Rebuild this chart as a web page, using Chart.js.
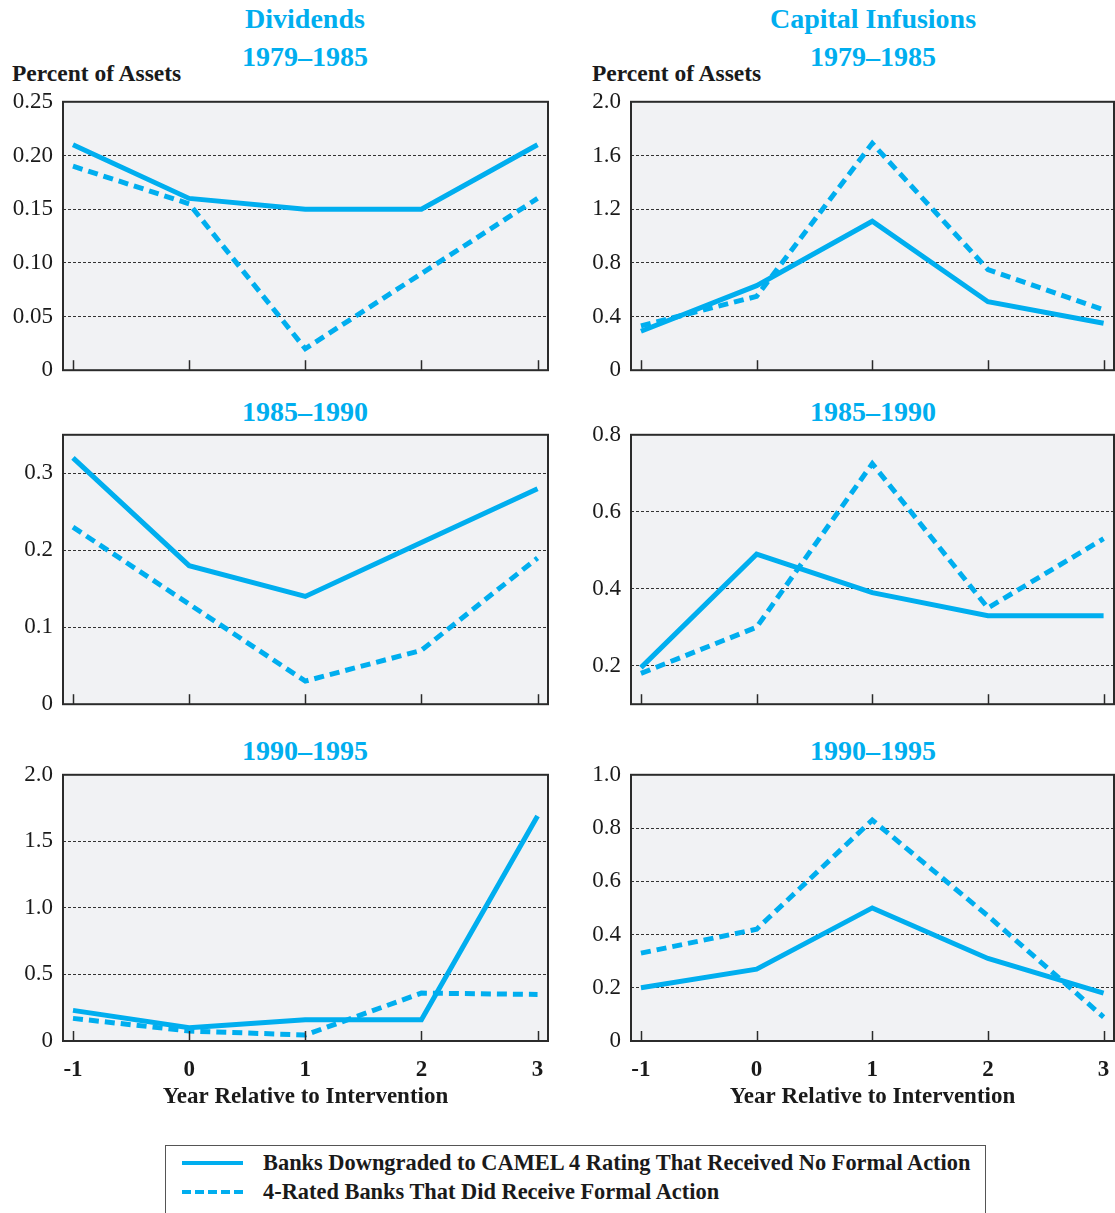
<!DOCTYPE html>
<html>
<head>
<meta charset="utf-8">
<script src="https://cdn.jsdelivr.net/npm/chart.js@4.4.0/dist/chart.umd.min.js"></script>
<style>
  body { margin: 0; background: #fff; width: 1115px; height: 1213px; position: relative; overflow: hidden;
         font-family: 'Liberation Serif', 'Times New Roman', serif; }
  canvas { position: absolute; }
  .ttl { position: absolute; width: 300px; text-align: center; color: #00AEEF; font-weight: bold;
         font-size: 28px; line-height: 28px; white-space: nowrap; }
  .unit { position: absolute; font-weight: bold; font-size: 23.5px; line-height: 24px; color: #1a1a1a; white-space: nowrap; }
  #legend { position: absolute; left: 165px; top: 1145px; width: 819px; height: 90px; border: 1px solid #555; }
  .row { position: absolute; left: 0; height: 26px; }
  .swatch { position: absolute; left: 16px; width: 61px; height: 4px; }
  .solid { background: #00AEEF; }
  .dash { background: repeating-linear-gradient(to right, #00AEEF 0 9px, transparent 9px 13px); }
  .lbl { position: absolute; left: 97px; font-weight: bold; font-size: 22.4px; line-height: 26px; color: #1a1a1a; white-space: nowrap; }
</style>
</head>
<body>

<div class="ttl" style="left:155px;top:5px">Dividends</div>
<div class="ttl" style="left:155px;top:43px">1979–1985</div>
<div class="ttl" style="left:723px;top:5px">Capital Infusions</div>
<div class="ttl" style="left:723px;top:43px">1979–1985</div>
<div class="unit" style="left:12px;top:61px">Percent of Assets</div>
<div class="unit" style="left:592px;top:61px">Percent of Assets</div>
<div class="ttl" style="left:155px;top:398px">1985–1990</div>
<div class="ttl" style="left:723px;top:398px">1985–1990</div>
<div class="ttl" style="left:155px;top:737px">1990–1995</div>
<div class="ttl" style="left:723px;top:737px">1990–1995</div>

<canvas id="c1" width="560" height="316" style="left:0;top:78px"></canvas>
<canvas id="c2" width="547" height="316" style="left:568px;top:78px"></canvas>
<canvas id="c3" width="560" height="317" style="left:0;top:411px"></canvas>
<canvas id="c4" width="547" height="317" style="left:568px;top:411px"></canvas>
<canvas id="c5" width="560" height="367" style="left:0;top:751px"></canvas>
<canvas id="c6" width="547" height="367" style="left:568px;top:751px"></canvas>

<div id="legend">
  <div class="row" style="top:4px"><div class="swatch solid" style="top:11px"></div><div class="lbl">Banks Downgraded to CAMEL 4 Rating That Received No Formal Action</div></div>
  <div class="row" style="top:33px"><div class="swatch dash" style="top:11px"></div><div class="lbl">4-Rated Banks That Did Receive Formal Action</div></div>
</div>

<script>
const years = [-1, 0, 1, 2, 3];
const xLabels = ['-1', '0', '1', '2', '3'];

// Dividends, percent of assets
const div7985NoAction = [0.21, 0.16, 0.15, 0.15, 0.21];
const div7985Formal   = [0.19, 0.155, 0.02, 0.09, 0.16];
const div8590NoAction = [0.32, 0.18, 0.14, 0.21, 0.28];
const div8590Formal   = [0.23, 0.13, 0.03, 0.07, 0.19];
const div9095NoAction = [0.23, 0.10, 0.16, 0.16, 1.69];
const div9095Formal   = [0.17, 0.075, 0.045, 0.36, 0.35];

// Capital infusions, percent of assets
const cap7985NoAction = [0.29, 0.63, 1.11, 0.51, 0.35];
const cap7985Formal   = [0.33, 0.55, 1.69, 0.75, 0.45];
const cap8590NoAction = [0.195, 0.49, 0.39, 0.33, 0.33];
const cap8590Formal   = [0.18, 0.30, 0.725, 0.35, 0.53];
const cap9095NoAction = [0.20, 0.27, 0.50, 0.31, 0.18];
const cap9095Formal   = [0.33, 0.42, 0.83, 0.47, 0.09];

// y tick values and labels
const divTicks7985 = [0, 0.05, 0.10, 0.15, 0.20, 0.25];
const divLabels7985 = ['0', '0.05', '0.10', '0.15', '0.20', '0.25'];
const capTicks7985 = [0, 0.4, 0.8, 1.2, 1.6, 2.0];
const capLabels7985 = ['0', '0.4', '0.8', '1.2', '1.6', '2.0'];
const divTicks8590 = [0, 0.1, 0.2, 0.3];
const divLabels8590 = ['0', '0.1', '0.2', '0.3'];
const capTicks8590 = [0.2, 0.4, 0.6, 0.8];
const capLabels8590 = ['0.2', '0.4', '0.6', '0.8'];
const divTicks9095 = [0, 0.5, 1.0, 1.5, 2.0];
const divLabels9095 = ['0', '0.5', '1.0', '1.5', '2.0'];
const capTicks9095 = [0, 0.2, 0.4, 0.6, 0.8, 1.0];
const capLabels9095 = ['0', '0.2', '0.4', '0.6', '0.8', '1.0'];

const BLUE = '#00AEEF';
const SERIF = "'Liberation Serif', 'Times New Roman', serif";

// plot background, frame and the little inside tick marks on the x axis
const framePlugin = {
    id: 'frame',
    beforeDraw(chart) {
        const a = chart.chartArea, ctx = chart.ctx;
        ctx.save();
        ctx.fillStyle = '#F1F2F4';
        ctx.fillRect(a.left, a.top, a.right - a.left, a.bottom - a.top);
        ctx.restore();
    },
    afterDraw(chart) {
        const a = chart.chartArea, ctx = chart.ctx, xs = chart.scales.x;
        ctx.save();
        ctx.strokeStyle = '#2b2b2b';
        ctx.lineWidth = 1.5;
        years.forEach(v => {
            const px = Math.round(xs.getPixelForValue(v)) + 0.5;
            ctx.beginPath();
            ctx.moveTo(px, a.bottom);
            ctx.lineTo(px, a.bottom - 10);
            ctx.stroke();
        });
        ctx.lineWidth = 2;
        ctx.strokeRect(a.left, a.top, a.right - a.left, a.bottom - a.top);
        ctx.restore();
    }
};

function pts(arr) {
    return years.map((x, i) => ({ x: x, y: arr[i] }));
}

function makeChart(id, noAction, formal, yMin, yMax, yTicks, yLabels, bottomRow, padRight) {
    const ctx = document.getElementById(id).getContext('2d');
    return new Chart(ctx, {
        type: 'line',
        data: {
            datasets: [{
                label: 'Banks Downgraded to CAMEL 4 Rating That Received No Formal Action',
                data: pts(noAction),
                borderColor: BLUE,
                borderWidth: 5,
                pointRadius: 0,
                tension: 0
            }, {
                label: '4-Rated Banks That Did Receive Formal Action',
                data: pts(formal),
                borderColor: BLUE,
                borderWidth: 5,
                borderDash: [10, 6],
                pointRadius: 0,
                tension: 0
            }]
        },
        options: {
            responsive: false,
            animation: false,
            layout: {
                padding: { top: 16, right: padRight, left: 0, bottom: bottomRow ? 0 : 16 }
            },
            plugins: {
                legend: { display: false },
                tooltip: { enabled: false }
            },
            scales: {
                x: {
                    type: 'linear',
                    min: -1.086,
                    max: 3.09,
                    display: bottomRow,
                    afterBuildTicks: s => { s.ticks = years.map(v => ({ value: v })); },
                    afterFit: s => {
                        s.paddingLeft = 0;
                        s.paddingRight = 0;
                        if (bottomRow) s.height = 77;
                    },
                    grid: { display: false, drawTicks: false },
                    border: { display: false },
                    ticks: {
                        padding: 15,
                        maxRotation: 0,
                        color: '#1a1a1a',
                        font: { family: SERIF, size: 23, weight: 'bold' },
                        callback: (v, i) => xLabels[i]
                    },
                    title: {
                        display: true,
                        text: 'Year Relative to Intervention',
                        color: '#1a1a1a',
                        padding: { top: 2, bottom: 7 },
                        font: { family: SERIF, size: 23, weight: 'bold' }
                    }
                },
                y: {
                    min: yMin,
                    max: yMax,
                    afterBuildTicks: s => { s.ticks = yTicks.map(v => ({ value: v })); },
                    afterFit: s => { s.width = 63; },
                    grid: {
                        color: '#333',
                        lineWidth: 1,
                        drawTicks: false
                    },
                    border: { display: false, dash: [3, 2] },
                    ticks: {
                        padding: 10,
                        color: '#1a1a1a',
                        font: { family: SERIF, size: 23 },
                        callback: (v, i) => yLabels[i]
                    }
                }
            }
        },
        plugins: [framePlugin]
    });
}

makeChart('c1', div7985NoAction, div7985Formal, 0, 0.25, divTicks7985, divLabels7985, false, 12);
makeChart('c2', cap7985NoAction, cap7985Formal, 0, 2.0, capTicks7985, capLabels7985, false, 1);
makeChart('c3', div8590NoAction, div8590Formal, 0, 0.35, divTicks8590, divLabels8590, false, 12);
makeChart('c4', cap8590NoAction, cap8590Formal, 0.1, 0.8, capTicks8590, capLabels8590, false, 1);
makeChart('c5', div9095NoAction, div9095Formal, 0, 2.0, divTicks9095, divLabels9095, true, 12);
makeChart('c6', cap9095NoAction, cap9095Formal, 0, 1.0, capTicks9095, capLabels9095, true, 1);
</script>
</body>
</html>
